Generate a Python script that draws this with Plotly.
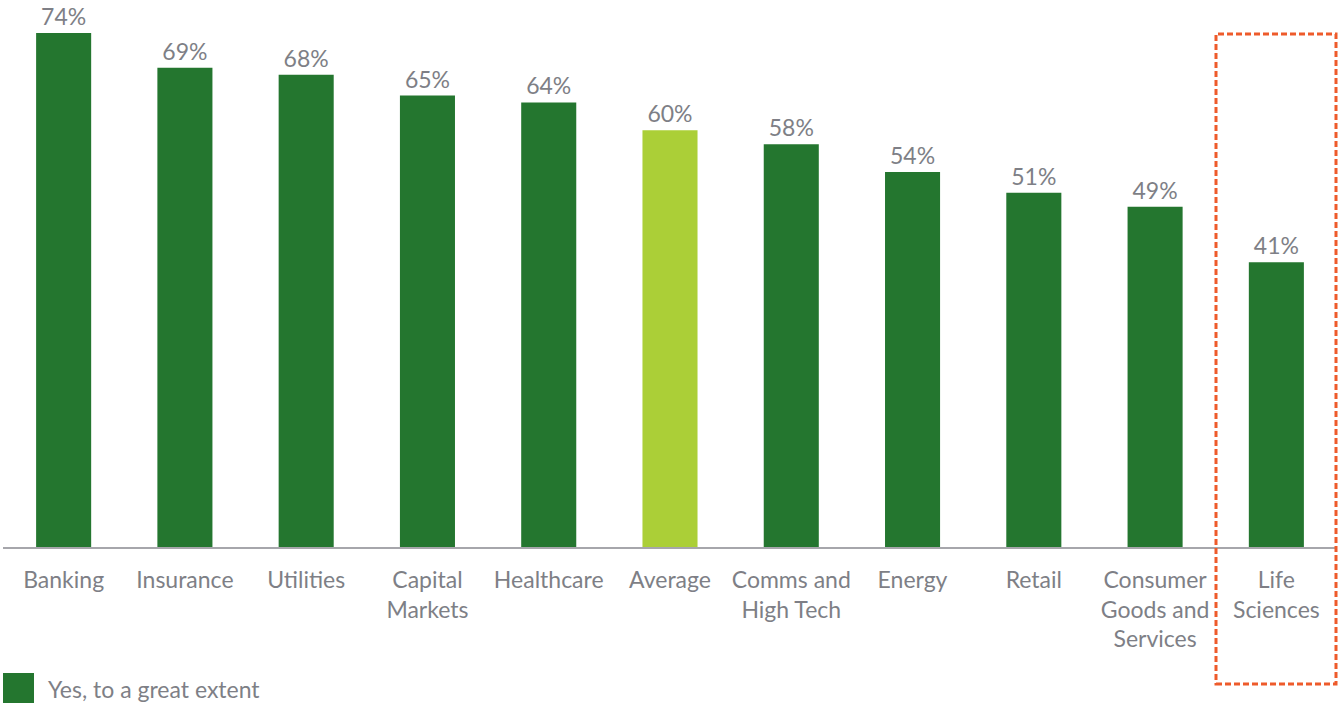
import plotly.graph_objects as go

categories = ["Banking", "Insurance", "Utilities", "Capital<br>Markets", "Healthcare", "Average",
              "Comms and<br>High Tech", "Energy", "Retail", "Consumer<br>Goods and<br>Services", "Life<br>Sciences"]
values = [74, 69, 68, 65, 64, 60, 58, 54, 51, 49, 41]
labels = [f"{v}%" for v in values]
legend_label = "Yes, to a great extent"

DARK = "#24762F"
LIGHT = "#ABCF37"
GREY = "#7E7F86"
colors = [LIGHT if c == "Average" else DARK for c in categories]

FONT = "Lato"

fig = go.Figure()
fig.add_trace(go.Bar(
    x=categories, y=values, text=labels, textposition="outside",
    textfont=dict(family=FONT, size=23, color=GREY),
    marker=dict(color=colors, line=dict(width=0)),
    cliponaxis=False, showlegend=False,
))

W, H = 1339, 703
ml, mr, mt, mb = 3, 2, 33, 156
fig.update_layout(
    width=W, height=H,
    margin=dict(l=ml, r=mr, t=mt, b=mb),
    paper_bgcolor="white", plot_bgcolor="white",
    bargap=0.546,
    font=dict(family=FONT, size=23, color=GREY),
    xaxis=dict(showgrid=False, showline=True, linecolor="#A6A6AB", linewidth=2,
               tickfont=dict(family=FONT, size=23, color=GREY), ticks="", ticklabelstandoff=11),
    yaxis=dict(range=[0, 74], visible=False, showgrid=False),
)

pw = W - ml - mr
ph = H - mt - mb
def px_x(p):
    return (p - ml) / pw
def px_y(p):
    return (H - mb - p) / ph

# legend drawn manually
fig.add_shape(type="rect", xref="paper", yref="paper",
              x0=px_x(3), x1=px_x(34), y0=px_y(703), y1=px_y(673),
              fillcolor=DARK, line=dict(width=0))
fig.add_annotation(xref="paper", yref="paper", x=px_x(46), y=px_y(689),
                   text=legend_label, showarrow=False, xanchor="left", yanchor="middle",
                   font=dict(family=FONT, size=23, color=GREY))

# highlight box around Life Sciences
fig.add_shape(type="rect", xref="paper", yref="paper",
              x0=px_x(1216), x1=px_x(1336), y0=px_y(684), y1=px_y(34),
              line=dict(color="#EE5B2B", width=3, dash="6px,3px"), fillcolor="rgba(0,0,0,0)")

fig.write_html("out.html")
